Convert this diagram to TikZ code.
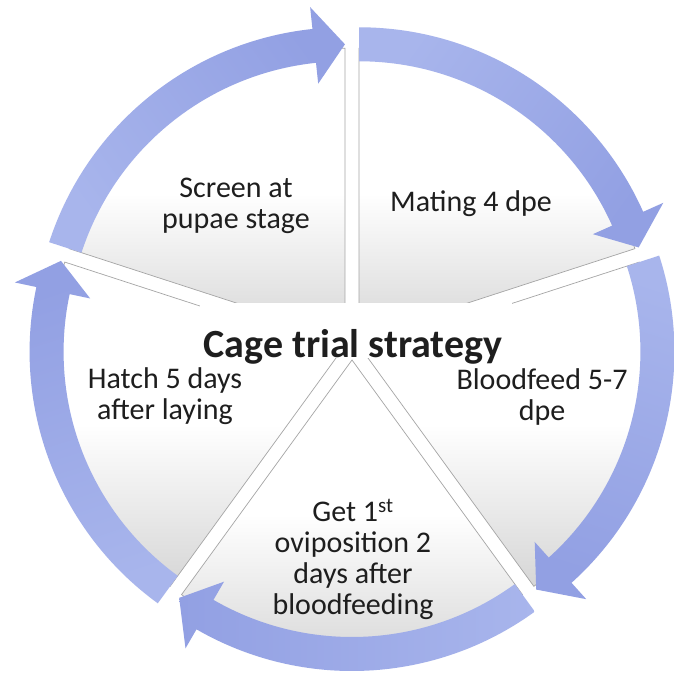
\documentclass[tikz,border=0pt]{standalone}
\usepackage{fontspec}
\setmainfont{Carlito}
\usetikzlibrary{calc}
\definecolor{arrlight}{RGB}{168,181,236}
\definecolor{arrdark}{RGB}{146,160,227}
\definecolor{secgray}{RGB}{214,214,214}
\definecolor{secline}{RGB}{165,165,165}
\definecolor{txt}{RGB}{30,30,30}
\begin{document}
\begin{tikzpicture}[x=1pt,y=1pt,
  sector/.style={top color=white, bottom color=secgray, middle color=white, draw=secline, line width=0.7pt},
  cyclearrow/.style={top color=arrlight, bottom color=arrdark, draw=none},
  label/.style={font=\fontsize{30}{31}\selectfont, text=txt, align=center, inner sep=0pt},
  title/.style={font=\fontsize{40}{42}\selectfont\bfseries, text=txt, inner sep=0pt}]
\useasboundingbox (0,0) rectangle (675,686);
\fill[white] (0,0) rectangle (675,686);
\coordinate (C) at (352,338);
% pie sectors
\foreach \m in {126,198,270,342,54}{
  \pgfmathsetmacro{\aa}{\m-36}
  \pgfmathsetmacro{\ab}{\m+36}
  \coordinate (P) at ($(C)+(\m:12)$);
  \path[sector] (P) -- ($(P)+(\aa:290)$) arc[start angle=\aa, end angle=\ab, radius=290] -- cycle;
}
% white band behind the title
\fill[white] (200,328) rectangle (512,383);
% cycle arrows
\foreach \m in {126,198,270,342,54}{
  \pgfmathsetmacro{\ta}{\m+36}
  \pgfmathsetmacro{\tp}{\m-36}
  \pgfmathsetmacro{\hb}{\m-36+6}
  \coordinate (P) at ($(C)+(\m:12)$);
  \path[cyclearrow, shading angle=\m] ($(P)+(\ta:277)$) arc[start angle=\ta, end angle=\hb, radius=277]
     -- ($(P)+(\hb:256)$) -- ($(P)+(\tp:294)$) -- ($(P)+(\hb:333)$) -- ($(P)+(\hb:311)$)
     arc[start angle=\hb, end angle=\ta, radius=311] -- cycle;
}
% texts
\node[label] (screen) at (236,480.3) {Screen at\\pupae stage};
\node[label] (mating) at (471,482.5) {Mating 4 dpe};
\node[title] (title) at (353,339.3) {Cage trial strategy};
\node[label] (hatch) at (165,289.5) {Hatch 5 days\\after laying};
\node[label] (blood) at (542,289) {Bloodfeed 5-7\\dpe};
\node[label] (ovi) at (353,127) {Get 1\textsuperscript{st}\\oviposition 2\\days after\\bloodfeeding};
\end{tikzpicture}
\end{document}
